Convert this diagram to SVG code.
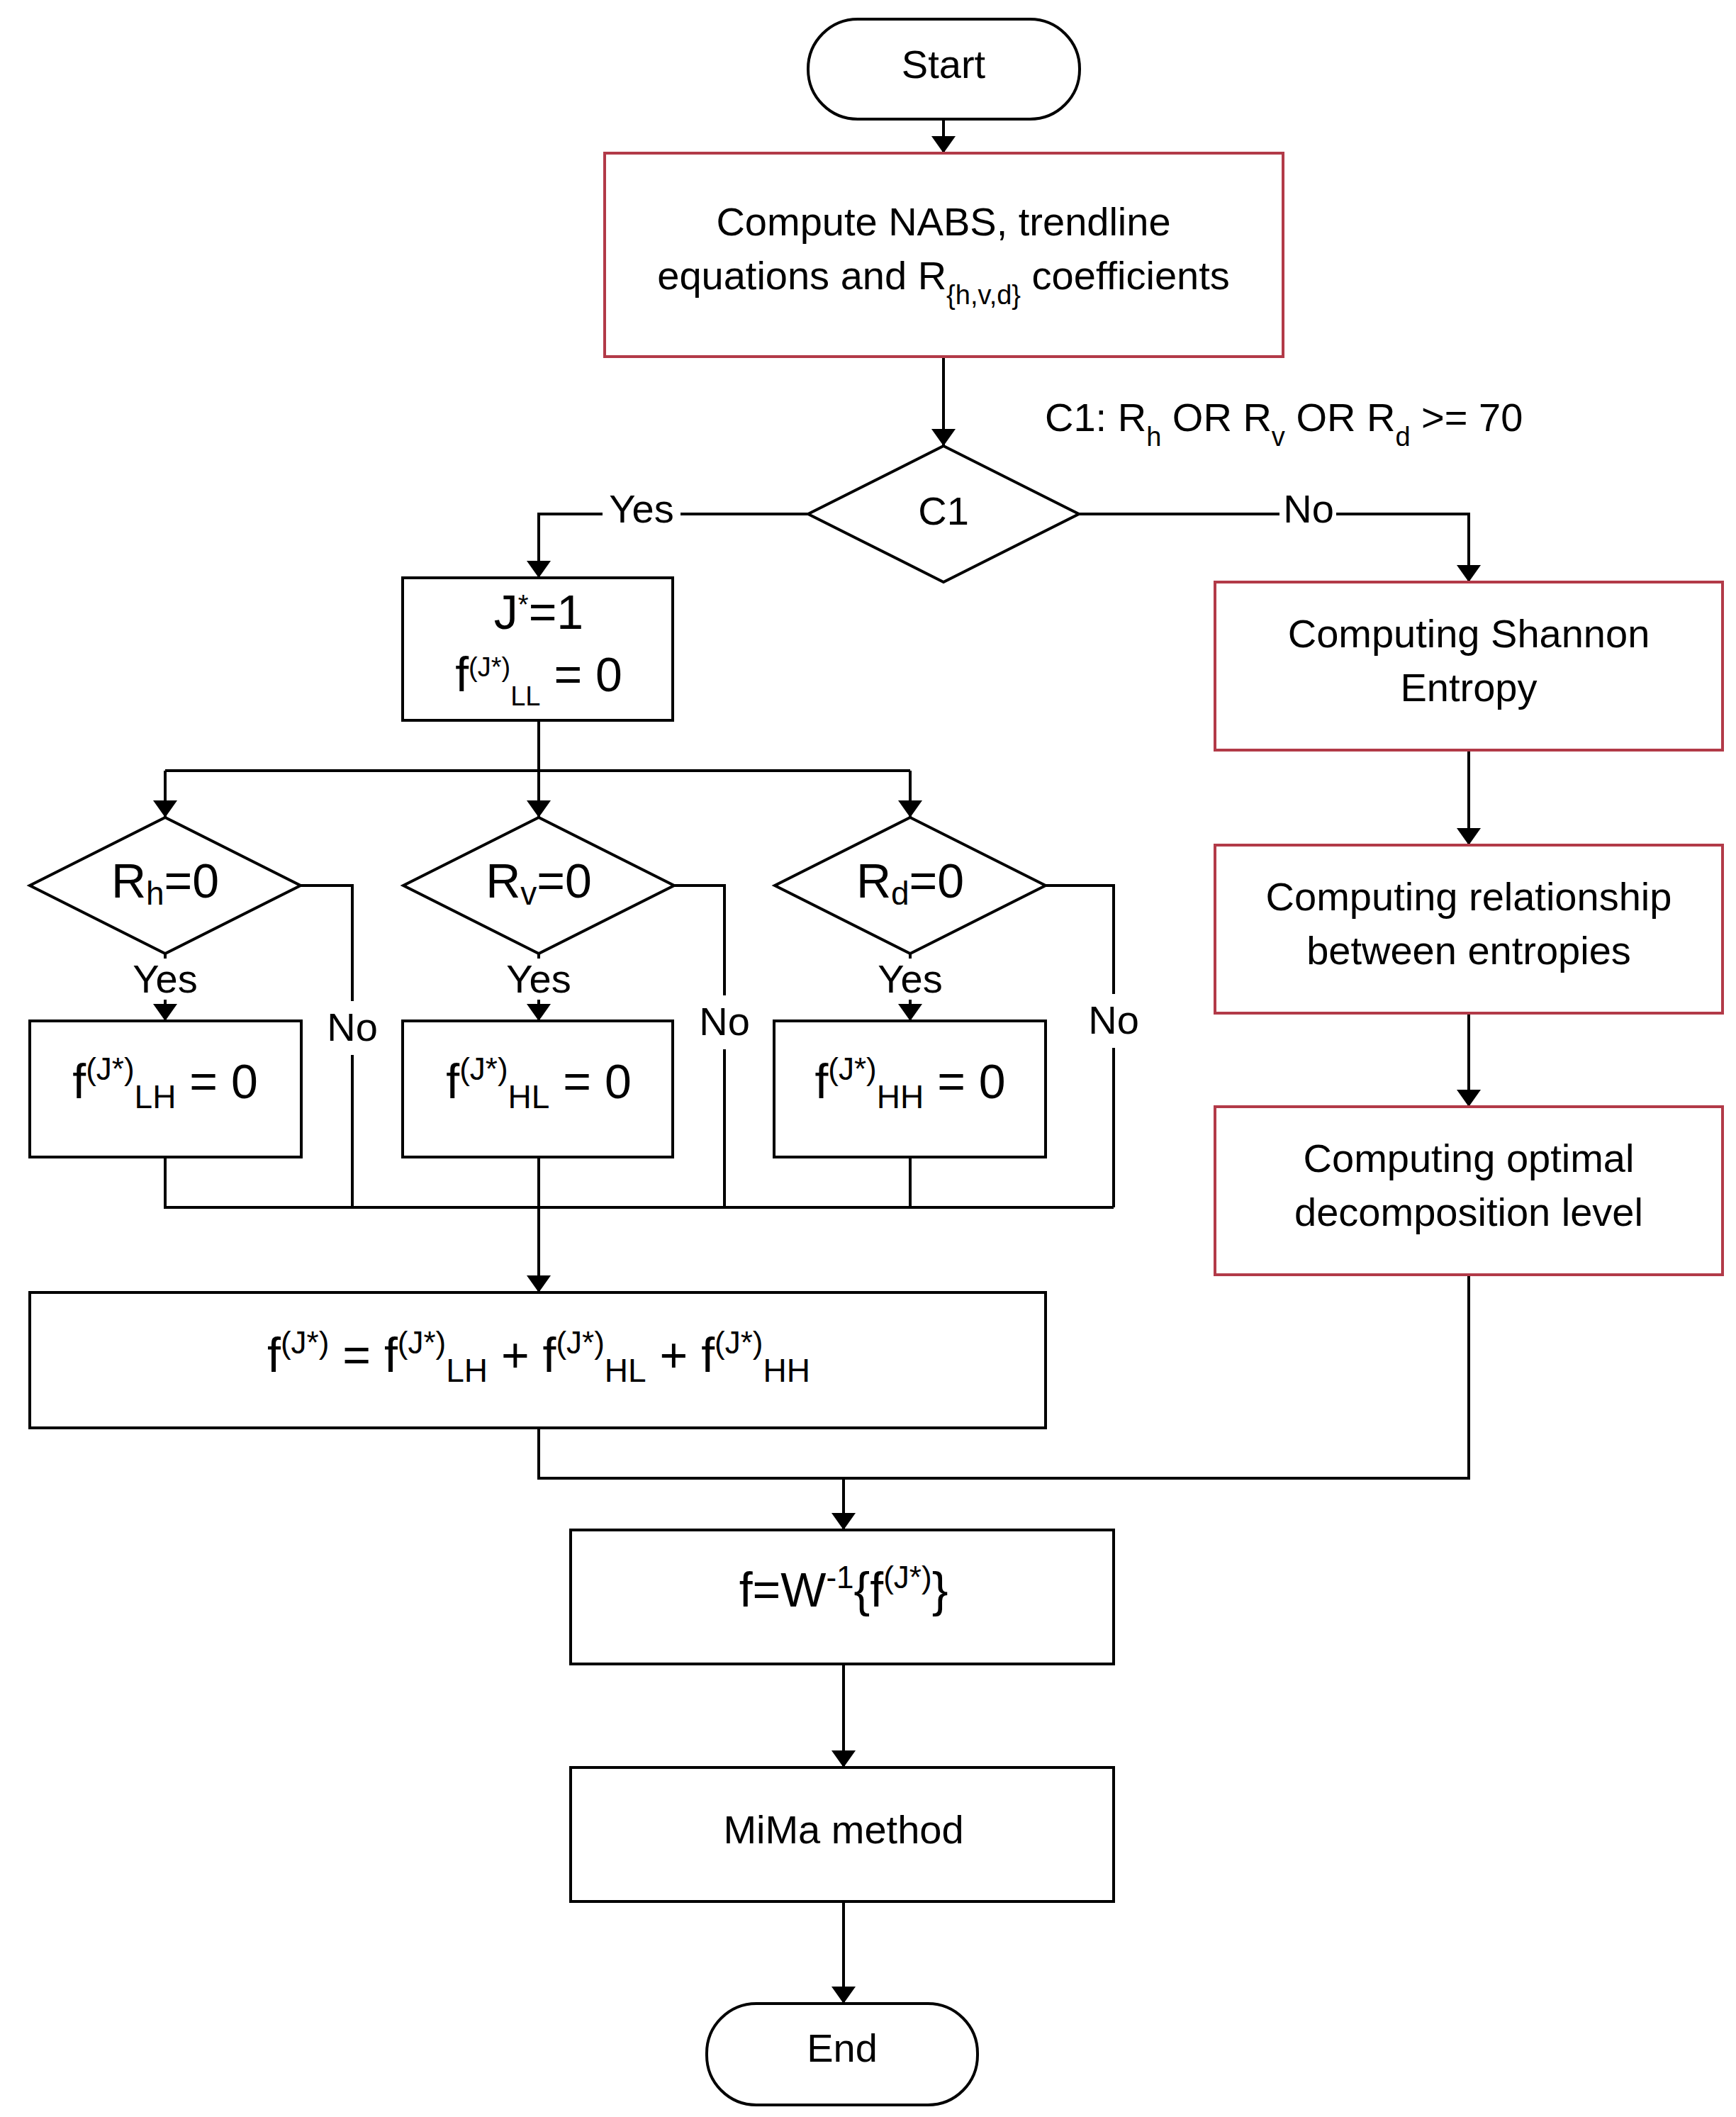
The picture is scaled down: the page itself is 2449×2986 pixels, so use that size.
<svg xmlns="http://www.w3.org/2000/svg" width="2449" height="2986" viewBox="0 0 2449 2986">
<style>
.n{fill:#fff;stroke:#000;stroke-width:4}
.r{fill:#fff;stroke:#b23a48;stroke-width:4}
.c{fill:none;stroke:#000;stroke-width:4}
text{font-family:"Liberation Sans",Arial,sans-serif;font-size:56px;fill:#000;text-anchor:middle}
.b{font-size:68px}
.s{font-size:38px}
.lb{fill:#fff}
</style>
<defs><marker id="a" markerWidth="12" markerHeight="14" refX="11" refY="7" orient="auto" markerUnits="userSpaceOnUse"><path d="M0,0 L12,7 L0,14 Z" fill="#000"/></marker>
<marker id="ah" viewBox="0 0 10 10" markerWidth="24" markerHeight="34" refX="10" refY="5" orient="auto" markerUnits="userSpaceOnUse" preserveAspectRatio="none"><path d="M0,0 L10,5 L0,10 Z" fill="#000"/></marker></defs>
<g id="connectors" class="c">
<path d="M1331,168 V216" marker-end="url(#ah)"/>
<path d="M1331,503 V629" marker-end="url(#ah)"/>
<path d="M1140,725 H760 V815" marker-end="url(#ah)"/>
<path d="M1522,725 H2072 V821" marker-end="url(#ah)"/>
<path d="M760,1016 V1087"/>
<path d="M233,1087 H1284"/>
<path d="M233,1087 V1153" marker-end="url(#ah)"/>
<path d="M760,1087 V1153" marker-end="url(#ah)"/>
<path d="M1284,1087 V1153" marker-end="url(#ah)"/>
<path d="M233,1345 V1440" marker-end="url(#ah)"/>
<path d="M760,1345 V1440" marker-end="url(#ah)"/>
<path d="M1284,1345 V1440" marker-end="url(#ah)"/>
<path d="M424,1249 H497 V1703"/>
<path d="M951,1249 H1022 V1703"/>
<path d="M1475,1249 H1571 V1703"/>
<path d="M233,1632 V1703 H1571"/>
<path d="M1284,1632 V1703"/>
<path d="M760,1632 V1823" marker-end="url(#ah)"/>
<path d="M2072,1058 V1192" marker-end="url(#ah)"/>
<path d="M2072,1429 V1561" marker-end="url(#ah)"/>
<path d="M760,2014 V2085 H2072 V1798"/>
<path d="M1190,2085 V2158" marker-end="url(#ah)"/>
<path d="M1190,2347 V2493" marker-end="url(#ah)"/>
<path d="M1190,2682 V2826" marker-end="url(#ah)"/>
</g>
<g id="labels">
<rect class="lb" x="850" y="685" width="110" height="70"/><text x="905" y="737">Yes</text>
<rect class="lb" x="1805" y="685" width="80" height="70"/><text x="1846" y="737">No</text>
<text x="1474" y="608" style="text-anchor:start">C1: R<tspan class="s" baseline-shift="sub">h</tspan> OR R<tspan class="s" baseline-shift="sub">v</tspan> OR R<tspan class="s" baseline-shift="sub">d</tspan> &gt;= 70</text>
<rect class="lb" x="170" y="1352" width="126" height="58"/><text x="233" y="1400">Yes</text>
<rect class="lb" x="697" y="1352" width="126" height="58"/><text x="760" y="1400">Yes</text>
<rect class="lb" x="1221" y="1352" width="126" height="58"/><text x="1284" y="1400">Yes</text>
<rect class="lb" x="452" y="1412" width="90" height="76"/><text x="497" y="1468">No</text>
<rect class="lb" x="977" y="1404" width="90" height="76"/><text x="1022" y="1460">No</text>
<rect class="lb" x="1526" y="1402" width="90" height="76"/><text x="1571" y="1458">No</text>
</g>
<g id="start"><rect class="n" x="1140" y="27" width="383" height="141" rx="70"/><text x="1331" y="110">Start</text></g>
<g id="compute"><rect class="r" x="853" y="216" width="957" height="287"/><text x="1331" y="332">Compute NABS, trendline</text><text x="1331" y="408">equations and R<tspan class="s" baseline-shift="sub">{h,v,d}</tspan> coefficients</text></g>
<g id="c1"><polygon class="n" points="1331,629 1522,725 1331,821 1140,725"/><text x="1331" y="740">C1</text></g>
<g id="j"><rect class="n" x="568" y="815" width="381" height="201"/><text class="b" x="760" y="887">J<tspan class="s" baseline-shift="super">*</tspan>=1</text><text class="b" x="760" y="975">f<tspan class="s" baseline-shift="super">(J*)</tspan><tspan class="s" dy="20" font-size="46">LL</tspan><tspan dy="-20"> = 0</tspan></text></g>
<g id="shannon"><rect class="r" x="1714" y="821" width="716" height="237"/><text x="2072" y="913">Computing Shannon</text><text x="2072" y="989">Entropy</text></g>
<g id="rel"><rect class="r" x="1714" y="1192" width="716" height="237"/><text x="2072" y="1284">Computing relationship</text><text x="2072" y="1360">between entropies</text></g>
<g id="opt"><rect class="r" x="1714" y="1561" width="716" height="237"/><text x="2072" y="1653">Computing optimal</text><text x="2072" y="1729">decomposition level</text></g>
<g id="rh"><polygon class="n" points="233,1153 424,1249 233,1345 42,1249"/><text class="b" x="233" y="1266">R<tspan font-size="46" dy="10">h</tspan><tspan dy="-10">=0</tspan></text></g>
<g id="rv"><polygon class="n" points="760,1153 951,1249 760,1345 569,1249"/><text class="b" x="760" y="1266">R<tspan font-size="46" dy="10">v</tspan><tspan dy="-10">=0</tspan></text></g>
<g id="rd"><polygon class="n" points="1284,1153 1475,1249 1284,1345 1093,1249"/><text class="b" x="1284" y="1266">R<tspan font-size="46" dy="10">d</tspan><tspan dy="-10">=0</tspan></text></g>
<g id="flh"><rect class="n" x="42" y="1440" width="383" height="192"/><text class="b" x="233" y="1549">f<tspan font-size="44" dy="-26">(J*)</tspan><tspan font-size="46" dy="40">LH</tspan><tspan dy="-14"> = 0</tspan></text></g>
<g id="fhl"><rect class="n" x="568" y="1440" width="381" height="192"/><text class="b" x="760" y="1549">f<tspan font-size="44" dy="-26">(J*)</tspan><tspan font-size="46" dy="40">HL</tspan><tspan dy="-14"> = 0</tspan></text></g>
<g id="fhh"><rect class="n" x="1092" y="1440" width="383" height="192"/><text class="b" x="1284" y="1549">f<tspan font-size="44" dy="-26">(J*)</tspan><tspan font-size="46" dy="40">HH</tspan><tspan dy="-14"> = 0</tspan></text></g>
<g id="sum"><rect class="n" x="42" y="1823" width="1433" height="191"/><text class="b" x="760" y="1935">f<tspan font-size="44" dy="-26">(J*)</tspan><tspan dy="26"> = f</tspan><tspan font-size="44" dy="-26">(J*)</tspan><tspan font-size="46" dy="40">LH</tspan><tspan dy="-14"> + f</tspan><tspan font-size="44" dy="-26">(J*)</tspan><tspan font-size="46" dy="40">HL</tspan><tspan dy="-14"> + f</tspan><tspan font-size="44" dy="-26">(J*)</tspan><tspan font-size="46" dy="40">HH</tspan></text></g>
<g id="inv"><rect class="n" x="805" y="2158" width="766" height="189"/><text class="b" x="1190" y="2266">f=W<tspan font-size="44" dy="-26">-1</tspan><tspan dy="26">{f</tspan><tspan font-size="44" dy="-26">(J*)</tspan><tspan dy="26">}</tspan></text></g>
<g id="mima"><rect class="n" x="805" y="2493" width="766" height="189"/><text x="1190" y="2600">MiMa method</text></g>
<g id="end"><rect class="n" x="997" y="2826" width="382" height="143" rx="70"/><text x="1188" y="2908">End</text></g>
</svg>
